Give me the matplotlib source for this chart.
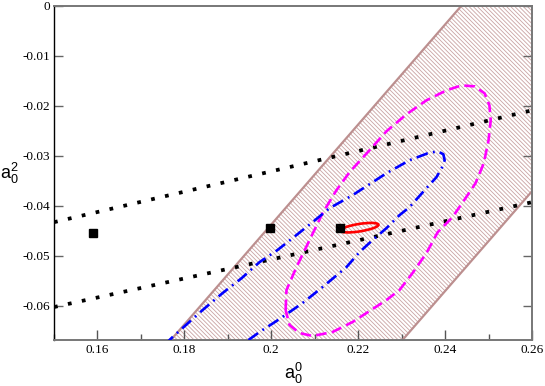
import numpy as np
import matplotlib
matplotlib.use('Agg')
import matplotlib.pyplot as plt
from matplotlib.patches import Ellipse
from matplotlib.ticker import MultipleLocator

# band (hatched region), two parallel edges
band_upper_x = [0.1738, 0.2467]
band_upper_y = [-0.0700, 0.0030]
band_lower_x = [0.2271, 0.3001]
band_lower_y = [-0.0700, 0.0030]

# dotted lines
dot1_x = [0.15, 0.26]
dot1_y = [-0.0433, -0.0209]
dot2_x = [0.15, 0.26]
dot2_y = [-0.0603, -0.0393]

# black squares
sq_x = [0.1589, 0.1998, 0.2159]
sq_y = [-0.0455, -0.0445, -0.0445]

# magenta dashed contour
mag_x = [0.2033, 0.2035, 0.2058, 0.2088, 0.2118, 0.2150, 0.2180, 0.2226, 0.2265, 0.2311,
         0.2357, 0.2403, 0.2438, 0.2468, 0.2491, 0.2502, 0.2505, 0.2500, 0.2489, 0.2470,
         0.2447, 0.2417, 0.2383, 0.2357, 0.2325, 0.2295, 0.2265, 0.2219, 0.2187, 0.2141,
         0.2095, 0.2065, 0.2042, 0.2033]
mag_y = [-0.0609, -0.0569, -0.0523, -0.0469, -0.0415, -0.0369, -0.0333, -0.0289, -0.0251, -0.0217,
         -0.0189, -0.0169, -0.0159, -0.0161, -0.0175, -0.0199, -0.0229, -0.0269, -0.0315, -0.0355,
         -0.0385, -0.0423, -0.0453, -0.0495, -0.0535, -0.0569, -0.0589, -0.0615, -0.0633, -0.0653,
         -0.0661, -0.0655, -0.0639, -0.0609]

# blue dash-dot contour (runs out through the bottom)
blue_x = [0.1754, 0.1773, 0.1796, 0.1842, 0.1888, 0.1932, 0.1973, 0.2014, 0.2049, 0.2095,
          0.2134, 0.2187, 0.2226, 0.2265, 0.2318, 0.2360, 0.2383, 0.2396, 0.2399, 0.2392,
          0.2380, 0.2357, 0.2318, 0.2295, 0.2265, 0.2233, 0.2203, 0.2173, 0.2118, 0.2072,
          0.2019, 0.1973, 0.1938]
blue_y = [-0.0679, -0.0663, -0.0645, -0.0609, -0.0575, -0.0545, -0.0513, -0.0489, -0.0465, -0.0433,
          -0.0405, -0.0379, -0.0357, -0.0335, -0.0309, -0.0295, -0.0291, -0.0297, -0.0309, -0.0325,
          -0.0343, -0.0365, -0.0403, -0.0419, -0.0445, -0.0469, -0.0493, -0.0523, -0.0563, -0.0595,
          -0.0627, -0.0653, -0.0675]

# small red ellipse
red_center = (0.2203, -0.0444)
red_width = 0.0088
red_height = 0.0015
red_angle = 7.8

xticks = [0.16, 0.18, 0.20, 0.22, 0.24, 0.26]
xtick_labels = ['0.16', '0.18', '0.2', '0.22', '0.24', '0.26']
yticks = [0, -0.01, -0.02, -0.03, -0.04, -0.05, -0.06]
ytick_labels = ['0', '-0.01', '-0.02', '-0.03', '-0.04', '-0.05', '-0.06']

plt.rcParams['hatch.linewidth'] = 0.6

fig = plt.figure(figsize=(5.45, 3.86), dpi=100)
ax = fig.add_axes([54 / 545, 1 - 340 / 386, 478 / 545, 334 / 386])

band_x = band_upper_x + band_lower_x[::-1]
band_y = band_upper_y + band_lower_y[::-1]
ax.fill(band_x, band_y, facecolor='none', edgecolor='#c9a3a3', hatch='\\' * 8, lw=0, zorder=1)
ax.plot(band_upper_x, band_upper_y, color='#bc8f8f', lw=1.6, zorder=2)
ax.plot(band_lower_x, band_lower_y, color='#bc8f8f', lw=1.6, zorder=2)

ax.plot(dot1_x, dot1_y, color='black', lw=2.7, ls=(0, (1, 2.8)), zorder=3)
ax.plot(dot2_x, dot2_y, color='black', lw=2.7, ls=(0, (1, 2.8)), zorder=3)

ax.plot(mag_x, mag_y, color='#ff00ff', lw=1.9, ls=(0, (4, 2)), zorder=4)
ax.plot(blue_x, blue_y, color='#0000ff', lw=1.9, ls=(0, (4.5, 2, 0.7, 2)), zorder=4)

ell = Ellipse(red_center, red_width, red_height, angle=red_angle,
              facecolor='none', edgecolor='red', lw=1.9, zorder=5)
ax.add_patch(ell)

ax.plot(sq_x, sq_y, 's', color='black', ms=5.3, zorder=6)

ax.set_xlim(0.15, 0.26)
ax.set_ylim(-0.0669, 0)

ax.set_xticks(xticks, labels=xtick_labels)
ax.xaxis.set_minor_locator(MultipleLocator(0.01))
ax.set_yticks(yticks, labels=ytick_labels)
for lab in ax.get_xticklabels() + ax.get_yticklabels():
    lab.set_fontfamily('Liberation Serif')
    lab.set_fontsize(9.5)

ax.tick_params(axis='x', which='major', direction='in', length=7, width=1, color='#555555', pad=3)
ax.tick_params(axis='x', which='minor', direction='in', length=4, width=1, color='#555555')
ax.tick_params(axis='y', which='major', direction='in', length=6.5, width=1, color='#666666',
               right=True, pad=3)

for side in ['top', 'right', 'bottom']:
    ax.spines[side].set_color('#777777')
    ax.spines[side].set_linewidth(1.4)
ax.spines['left'].set_color('black')
ax.spines['left'].set_linewidth(1.0)

ax.set_xlabel('$\\mathregular{a_0^0}$', fontsize=13, fontfamily='Liberation Sans')
ax.xaxis.set_label_coords(0.5, -0.10)
ax.xaxis.label.set_va('center')
ax.set_ylabel('$\\mathregular{a_0^2}$', fontsize=13, fontfamily='Liberation Sans', rotation=0)
ax.yaxis.set_label_coords(-0.093, 0.5)
ax.yaxis.label.set_va('center')
ax.yaxis.label.set_ha('center')

fig.savefig('out.png', dpi=100)
